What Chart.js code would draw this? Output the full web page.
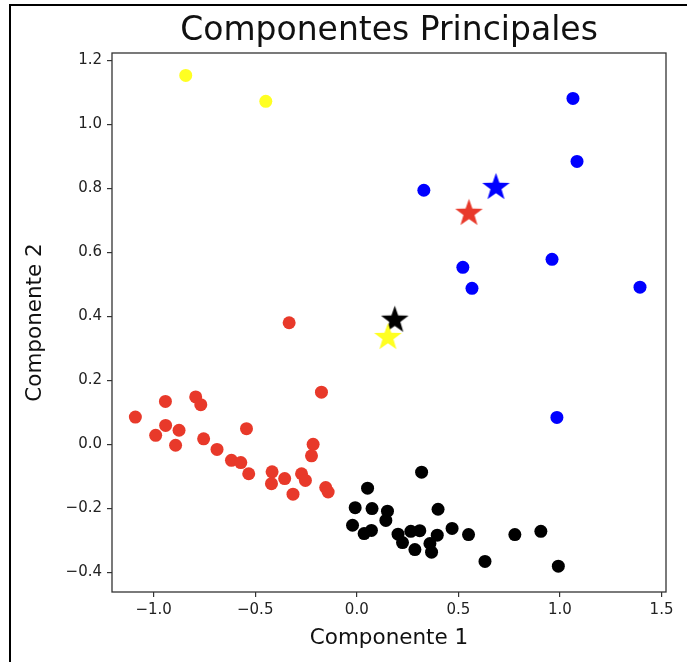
<!DOCTYPE html>
<html>
<head>
<meta charset="utf-8">
<script src="https://cdn.jsdelivr.net/npm/chart.js@4/dist/chart.umd.min.js"></script>
<style>
  html, body { margin: 0; padding: 0; background: #fff; }
  #wrap { position: relative; width: 687px; height: 662px; }
  #frame { position: absolute; left: 9px; top: 4px; right: 0; bottom: 0; border-left: 2px solid #000; border-top: 2px solid #000; pointer-events: none; }
  canvas { display: block; }
</style>
</head>
<body>
<div id="wrap">
  <canvas id="c" width="687" height="662"></canvas>
  <div id="frame"></div>
</div>
<script>
// ---- data ----
const redX = [-0.174, -0.942, -0.793, -0.768, -1.090, -0.941, -0.875, -0.990, -0.892, -0.543, -0.754, -0.688, -0.617, -0.571, -0.532, -0.215, -0.223, -0.417, -0.420, -0.355, -0.272, -0.253, -0.314, -0.153, -0.141, -0.333];
const redY = [0.163, 0.134, 0.148, 0.124, 0.085, 0.059, 0.044, 0.028, -0.003, 0.049, 0.017, -0.016, -0.050, -0.057, -0.092, 0.000, -0.036, -0.086, -0.123, -0.107, -0.092, -0.113, -0.156, -0.135, -0.149, 0.380];

const blackX = [0.319, 0.053, -0.008, 0.075, 0.151, 0.143, 0.400, -0.021, 0.036, 0.072, 0.203, 0.225, 0.266, 0.310, 0.286, 0.360, 0.368, 0.396, 0.469, 0.550, 0.631, 0.778, 0.906, 0.992];
const blackY = [-0.087, -0.137, -0.198, -0.201, -0.209, -0.238, -0.203, -0.253, -0.279, -0.269, -0.281, -0.307, -0.272, -0.270, -0.329, -0.310, -0.337, -0.284, -0.263, -0.282, -0.366, -0.282, -0.272, -0.381];

const blueX = [1.064, 1.084, 0.330, 0.522, 0.567, 0.961, 1.394, 0.985];
const blueY = [1.081, 0.884, 0.794, 0.553, 0.4875, 0.578, 0.491, 0.084];

const yellowX = [-0.842, -0.448];
const yellowY = [1.153, 1.072];

// centroids (stars): red, black, blue, yellow
const centroidX = [0.552, 0.187, 0.685, 0.153];
const centroidY = [0.722, 0.388, 0.803, 0.334];

const xTicks = [-1.0, -0.5, 0.0, 0.5, 1.0, 1.5];
const yTicks = [-0.4, -0.2, 0.0, 0.2, 0.4, 0.6, 0.8, 1.0, 1.2];

const titleText = 'Componentes Principales';
const xLabel = 'Componente 1';
const yLabel = 'Componente 2';

// ---- styles ----
const RED = '#e8392a', BLACK = '#000000', BLUE = '#0000ff', YELLOW = '#ffff22';
const FONT = "'DejaVu Sans', sans-serif";

function pts(xs, ys) { return xs.map((x, i) => ({ x: x, y: ys[i] })); }

function starImage(color, R) {
  const size = Math.ceil(2 * R + 4);
  const cv = document.createElement('canvas');
  cv.width = size; cv.height = size;
  const g = cv.getContext('2d');
  const cx = size / 2, cy = size / 2, r = R * 0.4;
  g.beginPath();
  for (let i = 0; i < 10; i++) {
    const rad = i % 2 === 0 ? R : r;
    const a = -Math.PI / 2 + i * Math.PI / 5;
    const px = cx + rad * Math.cos(a), py = cy + rad * Math.sin(a);
    if (i === 0) g.moveTo(px, py); else g.lineTo(px, py);
  }
  g.closePath();
  g.fillStyle = color;
  g.fill();
  return cv;
}

const centroidColors = [RED, BLACK, BLUE, YELLOW];

function circleSet(xs, ys, color) {
  return { data: pts(xs, ys), backgroundColor: color, borderWidth: 0, pointRadius: 6.5, pointHoverRadius: 6.5, pointStyle: 'circle' };
}

const starSets = centroidX.map((x, i) => ({
  data: [{ x: x, y: centroidY[i] }],
  pointStyle: starImage(centroidColors[i], 14.5),
  pointRadius: 14, borderWidth: 0,
  order: -i - 1
}));

const datasets = [
  Object.assign(circleSet(redX, redY, RED), { order: 4 }),
  Object.assign(circleSet(blackX, blackY, BLACK), { order: 3 }),
  Object.assign(circleSet(blueX, blueY, BLUE), { order: 2 }),
  Object.assign(circleSet(yellowX, yellowY, YELLOW), { order: 1 })
].concat(starSets);

function fmt(v) { return (v < 0 ? '\u2212' : '') + Math.abs(v).toFixed(1); }

const framePlugin = {
  id: 'frame',
  beforeDatasetsDraw(chart) {
    const a = chart.chartArea, ctx = chart.ctx;
    ctx.save();
    ctx.strokeStyle = '#333';
    ctx.lineWidth = 1.3;
    ctx.strokeRect(a.left, a.top, a.right - a.left, a.bottom - a.top);
    ctx.restore();
  },
  afterDraw(chart) {
    // title centred over the plot area, as in the reference
    const a = chart.chartArea, ctx = chart.ctx;
    ctx.save();
    ctx.fillStyle = '#111';
    ctx.font = "33px " + FONT;
    ctx.textAlign = 'center';
    ctx.textBaseline = 'alphabetic';
    ctx.fillText(titleText, (a.left + a.right) / 2, 39.5);
    ctx.restore();
  }
};

new Chart(document.getElementById('c'), {
  type: 'scatter',
  data: { datasets: datasets },
  options: {
    responsive: false,
    animation: false,
    events: [],
    layout: { padding: { left: 0, right: 21, top: 53, bottom: 0 } },
    plugins: {
      legend: { display: false },
      tooltip: { enabled: false },
      title: { display: false }
    },
    scales: {
      x: {
        type: 'linear', min: -1.205, max: 1.522,
        afterFit(s) { s.height = 70; },
        afterBuildTicks(s) { s.ticks = xTicks.map(v => ({ value: v })); },
        border: { display: false },
        grid: { drawOnChartArea: false, drawTicks: true, tickLength: 5, color: '#333', lineWidth: 1.2 },
        ticks: { callback: fmt, color: '#222', font: { family: FONT, size: 15 }, padding: 4, maxRotation: 0, autoSkip: false },
        title: { display: true, text: xLabel, color: '#111', font: { family: FONT, size: 21.5, lineHeight: 1.2 }, padding: { top: 0, bottom: 11 } }
      },
      y: {
        type: 'linear', min: -0.4616, max: 1.223,
        afterFit(s) { s.width = 112; },
        afterBuildTicks(s) { s.ticks = yTicks.map(v => ({ value: v })); },
        border: { display: false },
        grid: { drawOnChartArea: false, drawTicks: true, tickLength: 5, color: '#333', lineWidth: 1.2 },
        ticks: { callback: fmt, color: '#222', font: { family: FONT, size: 15 }, padding: 5, autoSkip: false },
        title: { display: true, text: yLabel, color: '#111', font: { family: FONT, size: 21.5, lineHeight: 1.2 }, padding: { top: 23, bottom: 0 } }
      }
    }
  },
  plugins: [framePlugin]
});
</script>
</body>
</html>
